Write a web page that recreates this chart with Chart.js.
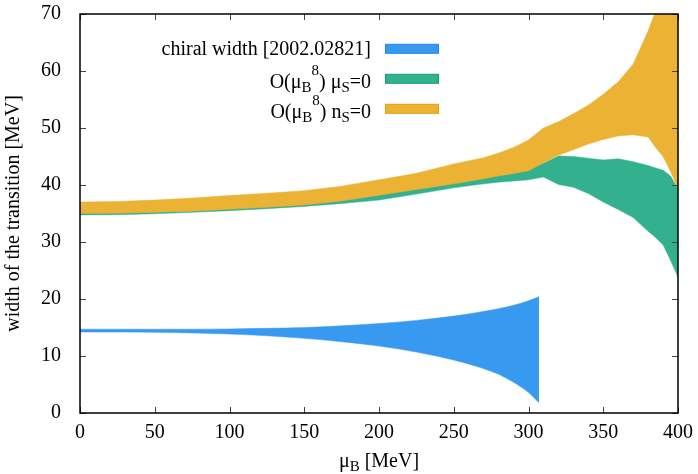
<!DOCTYPE html>
<html>
<head>
<meta charset="utf-8">
<script src="https://cdn.jsdelivr.net/npm/chart.js@4.4.0/dist/chart.umd.min.js"></script>
<style>
html, body { margin: 0; padding: 0; background: #fff; }
#grafico { display: block; }
</style>
</head>
<body>
<canvas id="grafico" width="698" height="474"></canvas>
<script>
// mu_B grid of the O(mu_B^8) bands
const muGrid = [0, 25, 50, 75, 100, 125, 150, 175, 200, 225, 250, 270, 280, 290, 300,
                310, 320, 330, 340, 350, 360, 370, 380, 385, 390, 395, 400];
const nsLow  = [35.0, 35.05, 35.2, 35.4, 35.75, 36.1, 36.5, 37.2, 38.2, 39.2, 40.2, 41.1, 41.6, 42.0, 42.5,
                43.9, 45.2, 46.2, 47.2, 48.0, 48.6, 48.8, 48.4, 46.6, 45.0, 42.4, 39.3];
const nsHigh = [37.0, 37.1, 37.35, 37.7, 38.15, 38.55, 39.0, 39.8, 40.9, 42.05, 43.7, 44.8, 45.6, 46.6, 47.9,
                50.0, 51.1, 52.5, 54.0, 55.9, 58.1, 61.2, 67.0, 70.5, 74, 78, 82];
const muSLow  = [34.75, 34.8, 34.95, 35.2, 35.5, 35.85, 36.25, 36.75, 37.35, 38.4, 39.5, 40.2, 40.5, 40.7, 40.9,
                 41.4, 40.1, 39.6, 38.5, 37.0, 35.7, 34.3, 31.9, 30.8, 29.5, 26.8, 23.8];
const muSHigh = [35.2, 35.25, 35.4, 35.6, 35.95, 36.3, 36.7, 37.4, 38.4, 39.4, 40.4, 41.3, 41.8, 42.2, 42.7,
                 43.8, 45.1, 45.0, 44.7, 44.4, 44.6, 44.1, 43.4, 43.0, 42.6, 41.6, 39.3];

// chiral width [2002.02821]
const chiralMu   = [0, 25, 50, 75, 100, 125, 150, 175, 200, 225, 250, 265, 280, 290, 300, 307];
const chiralLow  = [14.2, 14.2, 14.15, 14.05, 13.85, 13.55, 13.1, 12.5, 11.75, 10.7, 9.3, 8.2, 6.8, 5.4, 3.6, 1.8];
const chiralHigh = [14.7, 14.7, 14.7, 14.7, 14.75, 14.85, 15.0, 15.3, 15.7, 16.25, 17.0, 17.6, 18.3, 18.9, 19.7, 20.4];

const xTicks = [0, 50, 100, 150, 200, 250, 300, 350, 400];
const yTicks = [0, 10, 20, 30, 40, 50, 60, 70];

// legend entries: pieces of text [texto, tipo]
const legendaTextos = [
    [['chiral width [2002.02821]', '']],
    [['O(μ', ''], ['B', 'sub'], ['8', 'sup'], [') μ', ''], ['S', 'sub'], ['=0', '']],
    [['O(μ', ''], ['B', 'sub'], ['8', 'sup'], [') n', ''], ['S', 'sub'], ['=0', '']]
];
const corAzul = '#3899f0';
const corVerde = '#33b18f';
const corAmarela = '#ebb233';
const legendaCores = [corAzul, corVerde, corAmarela];
const legendaBordas = ['#1e88ea', '#109f78', '#e6a000'];

const fonte = "'Liberation Serif', 'Times New Roman', serif";
const ctx = document.getElementById('grafico').getContext('2d');

function pontos(xs, ys) {
    return xs.map((x, i) => ({ x: x, y: ys[i] }));
}

function desenharTexto(c, partes, x, y, tamanho, alinhar) {
    const pequeno = Math.round(tamanho * 0.75);
    let largura = 0;
    partes.forEach((p) => {
        c.font = (p[1] ? pequeno : tamanho) + 'px ' + fonte;
        largura += c.measureText(p[0]).width;
    });
    let cx = x;
    if (alinhar === 'right') cx = x - largura;
    if (alinhar === 'center') cx = x - largura / 2;
    c.textAlign = 'left';
    c.textBaseline = 'alphabetic';
    partes.forEach((p) => {
        c.font = (p[1] ? pequeno : tamanho) + 'px ' + fonte;
        let dy = 0;
        if (p[1] === 'sub') dy = tamanho * 0.2;
        if (p[1] === 'sup') dy = -tamanho * 0.65;
        c.fillText(p[0], cx, y + dy);
        cx += c.measureText(p[0]).width;
    });
}

const molduraPlugin = {
    id: 'moldura',
    afterDatasetsDraw(chart) {
        const c = chart.ctx;
        const a = chart.chartArea;
        const sx = chart.scales.x;
        const sy = chart.scales.y;
        c.save();
        c.strokeStyle = '#444';
        c.lineWidth = 1;
        c.beginPath();
        xTicks.forEach((t) => {
            const px = Math.round(sx.getPixelForValue(t)) + 0.5;
            c.moveTo(px, a.bottom); c.lineTo(px, a.bottom - 6);
            c.moveTo(px, a.top); c.lineTo(px, a.top + 6);
        });
        yTicks.forEach((t) => {
            const py = Math.round(sy.getPixelForValue(t)) + 0.5;
            c.moveTo(a.left, py); c.lineTo(a.left + 6, py);
            c.moveTo(a.right, py); c.lineTo(a.right - 6, py);
        });
        c.stroke();
        c.strokeStyle = '#000';
        c.lineWidth = 1.5;
        c.strokeRect(a.left, a.top, a.right - a.left, a.bottom - a.top);
        c.restore();
    },
    afterDraw(chart) {
        const c = chart.ctx;
        const a = chart.chartArea;
        c.save();
        c.fillStyle = '#000';
        // legend
        legendaTextos.forEach((partes, i) => {
            const centro = 48.8 + 30 * i;
            const temIndice = partes.length > 1;
            desenharTexto(c, partes, 371, centro + (temIndice ? 9.2 : 5.9), 20, 'right');
            c.fillStyle = legendaCores[i];
            c.fillRect(385, centro - 4.5, 54, 9);
            c.strokeStyle = legendaBordas[i];
            c.lineWidth = 1;
            c.strokeRect(385.5, centro - 4.5, 53, 9);
            c.fillStyle = '#000';
        });
        // x title
        desenharTexto(c, [['μ', ''], ['B', 'sub'], [' [MeV]', '']], (a.left + a.right) / 2, 467, 20, 'center');
        // y title
        c.translate(19, (a.top + a.bottom) / 2);
        c.rotate(-Math.PI / 2);
        desenharTexto(c, [['width of the transition [MeV]', '']], 0, 0, 20, 'center');
        c.restore();
    }
};

function faixa(rotulo, xs, ys, cor, preencher, suave) {
    return {
        label: rotulo,
        data: pontos(xs, ys),
        borderColor: cor,
        borderWidth: 0.5,
        backgroundColor: cor,
        pointRadius: 0,
        tension: suave ? 0.4 : 0,
        cubicInterpolationMode: suave ? 'monotone' : 'default',
        fill: preencher ? '-1' : false
    };
}

new Chart(ctx, {
    type: 'line',
    data: {
        datasets: [
            faixa('nS low', muGrid, nsLow, corAmarela, false, false),
            faixa('O(muB^8) nS=0', muGrid, nsHigh, corAmarela, true, false),
            faixa('muS low', muGrid, muSLow, corVerde, false, false),
            faixa('O(muB^8) muS=0', muGrid, muSHigh, corVerde, true, false),
            faixa('chiral low', chiralMu, chiralLow, corAzul, false, true),
            faixa('chiral width [2002.02821]', chiralMu, chiralHigh, corAzul, true, true)
        ]
    },
    options: {
        responsive: false,
        animation: false,
        devicePixelRatio: 1,
        layout: { padding: { top: 14, right: 20, left: 0, bottom: 0 } },
        plugins: {
            legend: { display: false },
            tooltip: { enabled: false }
        },
        scales: {
            x: {
                type: 'linear',
                min: 0,
                max: 400,
                grid: { display: false },
                border: { display: false },
                afterFit: (s) => {
                    s.height = 61;
                    s.paddingLeft = 0;
                    s.paddingRight = 0;
                },
                ticks: {
                    stepSize: 50,
                    padding: 0,
                    color: '#000',
                    font: { family: fonte, size: 20 }
                }
            },
            y: {
                min: 0,
                max: 70,
                grid: { display: false },
                border: { display: false },
                afterFit: (s) => {
                    s.width = 80;
                    s.paddingTop = 0;
                    s.paddingBottom = 0;
                },
                ticks: {
                    stepSize: 10,
                    padding: 11,
                    color: '#000',
                    font: { family: fonte, size: 20 }
                }
            }
        }
    },
    plugins: [molduraPlugin]
});
</script>
</body>
</html>
